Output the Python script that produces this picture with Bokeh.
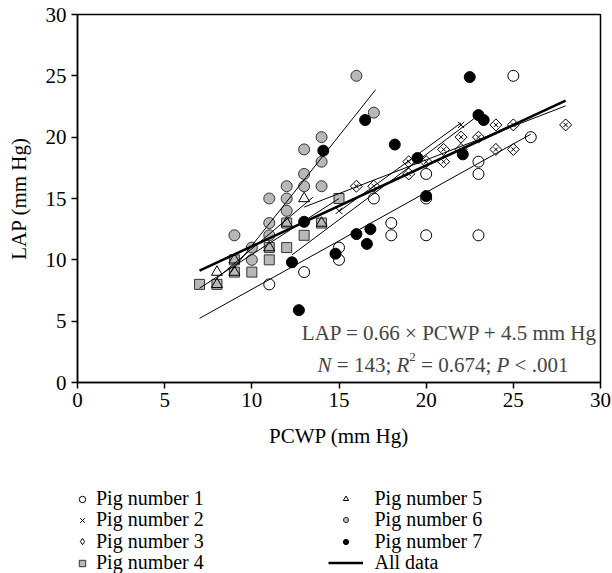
from bokeh.plotting import figure
from bokeh.models import Range1d, Label, Legend, LegendItem, FixedTicker
from bokeh.layouts import column
from bokeh.embed import file_html
from bokeh.resources import INLINE

FONT = "Liberation Serif"
NAN = float("nan")

# ---- data ----
pig1_x = [11, 13, 15, 15, 17, 18, 18, 20, 20, 20, 23, 23, 23, 25, 26]
pig1_y = [8, 9, 10, 11, 15, 12, 13, 12, 15, 17, 12, 17, 18, 25, 20]
pig2_x = [15, 22]
pig2_y = [14, 21]
pig3_x = [16, 17, 19, 19, 20, 21, 21, 22, 22, 23, 24, 24, 25, 25, 28]
pig3_y = [16, 16, 17, 18, 18, 18, 19, 19, 20, 20, 19, 21, 19, 21, 21]
pig4_x = [7, 8, 9, 9, 10, 11, 11, 12, 12, 13, 14, 15]
pig4_y = [8, 8, 9, 10, 9, 10, 11, 11, 13, 12, 13, 15]
pig5_x = [8, 8, 9, 9, 11, 12, 13, 14]
pig5_y = [8, 9, 9, 10, 11, 13, 15, 13]
pig6_x = [9, 10, 10, 11, 11, 11, 12, 12, 12, 13, 13, 13, 14, 14, 14, 16, 17]
pig6_y = [12, 10, 11, 12, 13, 15, 14, 15, 16, 16, 17, 19, 16, 18, 20, 25, 22]
pig7_x = [12.3, 12.7, 13, 14.1, 14.8, 16, 16.6, 16.8, 16.5, 18.2, 19.5, 20, 22.1, 22.5, 23, 23.3]
pig7_y = [9.8, 5.9, 13.1, 18.9, 10.5, 12.1, 11.3, 12.5, 21.4, 19.4, 18.3, 15.2, 18.6, 24.9, 21.8, 21.4]

# per-pig regression lines: slope, intercept, x-range (pigs 1..7)
fit_slope = [0.79, 1.03, 0.55, 0.913, 1.2, 1.79, 1.064]
fit_intercept = [-0.3, -1.5, 7.15, 1.3, -1.1, -6.74, -2.69]
fit_xmin = [7, 15, 13, 7, 8, 8.7, 12.3]
fit_xmax = [26, 22, 28, 15, 13.5, 17.1, 23.2]
# pooled regression
all_slope, all_intercept, all_xmin, all_xmax = 0.66, 4.5, 7, 28

x_ticks = [0, 5, 10, 15, 20, 25, 30]
y_ticks = [0, 5, 10, 15, 20, 25, 30]

legend_labels_left = ["Pig number 1", "Pig number 2", "Pig number 3", "Pig number 4"]
legend_labels_right = ["Pig number 5", "Pig number 6", "Pig number 7", "All data"]

FS = "21px"
fs = 21
GREY = "#b8b8b8"

p = figure(width=612, height=470, x_range=Range1d(0, 30), y_range=Range1d(0, 30),
           output_backend="svg", toolbar_location=None,
           min_border_left=77, min_border_right=12, min_border_top=14, min_border_bottom=88)
p.background_fill_color = "white"
p.border_fill_color = "white"
p.outline_line_color = "black"
p.outline_line_width = 1.5
p.grid.visible = False

for ax in (p.xaxis[0], p.yaxis[0]):
    ax.axis_line_width = 1.5
    ax.major_tick_line_width = 1.5
    ax.minor_tick_line_color = None
    ax.major_tick_in = 0
    ax.major_tick_out = 6
    ax.major_label_text_font = FONT
    ax.major_label_text_font_size = FS
    ax.major_label_text_color = "black"
    ax.axis_label_text_font = FONT
    ax.axis_label_text_font_size = FS
    ax.axis_label_text_font_style = "normal"
    ax.axis_label_text_color = "black"
p.xaxis.ticker = FixedTicker(ticks=x_ticks)
p.yaxis.ticker = FixedTicker(ticks=y_ticks)
p.xaxis.axis_label = "PCWP (mm Hg)"
p.yaxis.axis_label = "LAP (mm Hg)"
p.xaxis.major_label_standoff = 4
p.yaxis.major_label_standoff = 5
p.xaxis.axis_label_standoff = 14
p.yaxis.axis_label_standoff = 12

S = 11
r1 = p.scatter(pig1_x, pig1_y, marker="circle", size=S, fill_color="white", line_color="black", line_width=1)
r2 = p.scatter(pig2_x, pig2_y, marker="x", size=9, line_color="black", line_width=1)
r3 = p.scatter(pig3_x, pig3_y, marker="square", angle=0.7854, size=8.5, fill_color="white",
               line_color="black", line_width=1)
p.scatter(pig3_x, pig3_y, marker="x", size=6, line_color="black", line_width=1)
r4 = p.scatter(pig4_x, pig4_y, marker="square", size=10, fill_color=GREY, line_color="#333333", line_width=1)
r5 = p.scatter(pig5_x, pig5_y, marker="triangle", size=11, fill_color=None, line_color="black", line_width=1)
r6 = p.scatter(pig6_x, pig6_y, marker="circle", size=S, fill_color=GREY, line_color="#333333", line_width=1)
r7 = p.scatter(pig7_x, pig7_y, marker="circle", size=S, fill_color="black", line_color="black", line_width=1)

# per-pig fit lines
y0 = [m * a + b for m, a, b in zip(fit_slope, fit_xmin, fit_intercept)]
y1 = [m * a + b for m, a, b in zip(fit_slope, fit_xmax, fit_intercept)]
p.segment(x0=fit_xmin, y0=y0, x1=fit_xmax, y1=y1, line_color="black", line_width=1)
r_all = p.line([all_xmin, all_xmax],
               [all_slope * all_xmin + all_intercept, all_slope * all_xmax + all_intercept],
               line_color="black", line_width=2.6)

# ---- equation text ----
px_per_unit = 523 / 30.0
p.add_layout(Label(x=29.83, y=4.0, text="LAP = 0.66 × PCWP + 4.5 mm Hg", text_align="right",
                   text_baseline="alphabetic", text_font=FONT, text_font_size=FS))
# second line pieces, widths in em (Times metrics)
pieces = [("N", "italic", 0.667, fs, 0), ("= 143;", "normal", 0.564 + 0.25 + 1.5 + 0.278, fs, 0),
          ("R", "italic", 0.611, fs, 0), ("2", "normal", 0.5, 13, 8),
          ("= 0.674;", "normal", 0.564 + 0.25 + 0.5 + 0.25 + 1.5 + 0.278, fs, 0),
          ("P", "italic", 0.611, fs, 0), ("< .001", "normal", 0.564 + 0.25 + 0.25 + 1.5, fs, 0)]
gaps = [0.25, 0.25, 0.0, 0.25, 0.25, 0.25, 0.0]
cur = 13.77
for (t, style, w, size, rise), g in zip(pieces, gaps):
    p.add_layout(Label(x=cur, y=1.45 + rise / 12.27, text=t, text_align="left", text_baseline="alphabetic",
                       text_font=FONT, text_font_size=f"{size}px", text_font_style=style))
    cur += (w * size + g * fs) / px_per_unit

# ---- legend panel (separate canvas below the plot; its frame aligns with the plot frame) ----
LH = 103
lf = figure(width=612, height=LH, x_range=Range1d(0, 1), y_range=Range1d(0, 1),
            output_backend="svg", toolbar_location=None,
            min_border_left=77, min_border_right=12, min_border_top=0, min_border_bottom=0,
            x_axis_location=None, y_axis_location=None)
lf.outline_line_color = None
lf.grid.visible = False
lf.background_fill_color = "white"
lf.border_fill_color = "white"

g1 = lf.scatter(x=[NAN], y=[NAN], marker="circle", fill_color="white", line_color="black", line_width=1)
g2 = lf.scatter(x=[NAN], y=[NAN], marker="x", line_color="black", line_width=1)
g3 = lf.scatter(x=[NAN], y=[NAN], marker="diamond", fill_color="white", line_color="black", line_width=1)
g4 = lf.scatter(x=[NAN], y=[NAN], marker="square", fill_color=GREY, line_color="#333333", line_width=1)
g5 = lf.scatter(x=[NAN], y=[NAN], marker="triangle", fill_color="white", line_color="black", line_width=1)
g6 = lf.scatter(x=[NAN], y=[NAN], marker="circle", fill_color=GREY, line_color="#333333", line_width=1)
g7 = lf.scatter(x=[NAN], y=[NAN], marker="circle", fill_color="black", line_color="black", line_width=1)
g8 = lf.line(x=[NAN, NAN], y=[NAN, NAN], line_color="black", line_width=2.6)

row_centers = [29, 50.3, 71.7, 93]   # px from top of legend canvas
ITEM_H = 22
FRAME_LEFT = 77
# (legend left px, glyph width, glyph height, label standoff, labels, renderers)
cols = [(72, 20, 16, 4, legend_labels_left, [g1, g2, g3, g4]),
        (327.5, 35, 13, 12, legend_labels_right, [g5, g6, g7, g8])]
for lx, gw, gh, st, labels, rends in cols:
    for c, lab, rr in zip(row_centers, labels, rends):
        lg = Legend(items=[LegendItem(label=lab, renderers=[rr])],
                    location=(lx - FRAME_LEFT, LH - c - ITEM_H / 2), orientation="vertical")
        lg.glyph_width = gw
        lg.glyph_height = gh
        lg.label_height = ITEM_H
        lg.label_standoff = st
        lg.spacing = 0
        lg.padding = 0
        lg.margin = 0
        lg.border_line_color = None
        lg.background_fill_alpha = 0
        lg.label_text_font = FONT
        lg.label_text_font_size = "20px"
        lg.label_text_color = "black"
        lf.add_layout(lg, "center")

open("out.html", "w").write(file_html(column(p, lf), INLINE))
